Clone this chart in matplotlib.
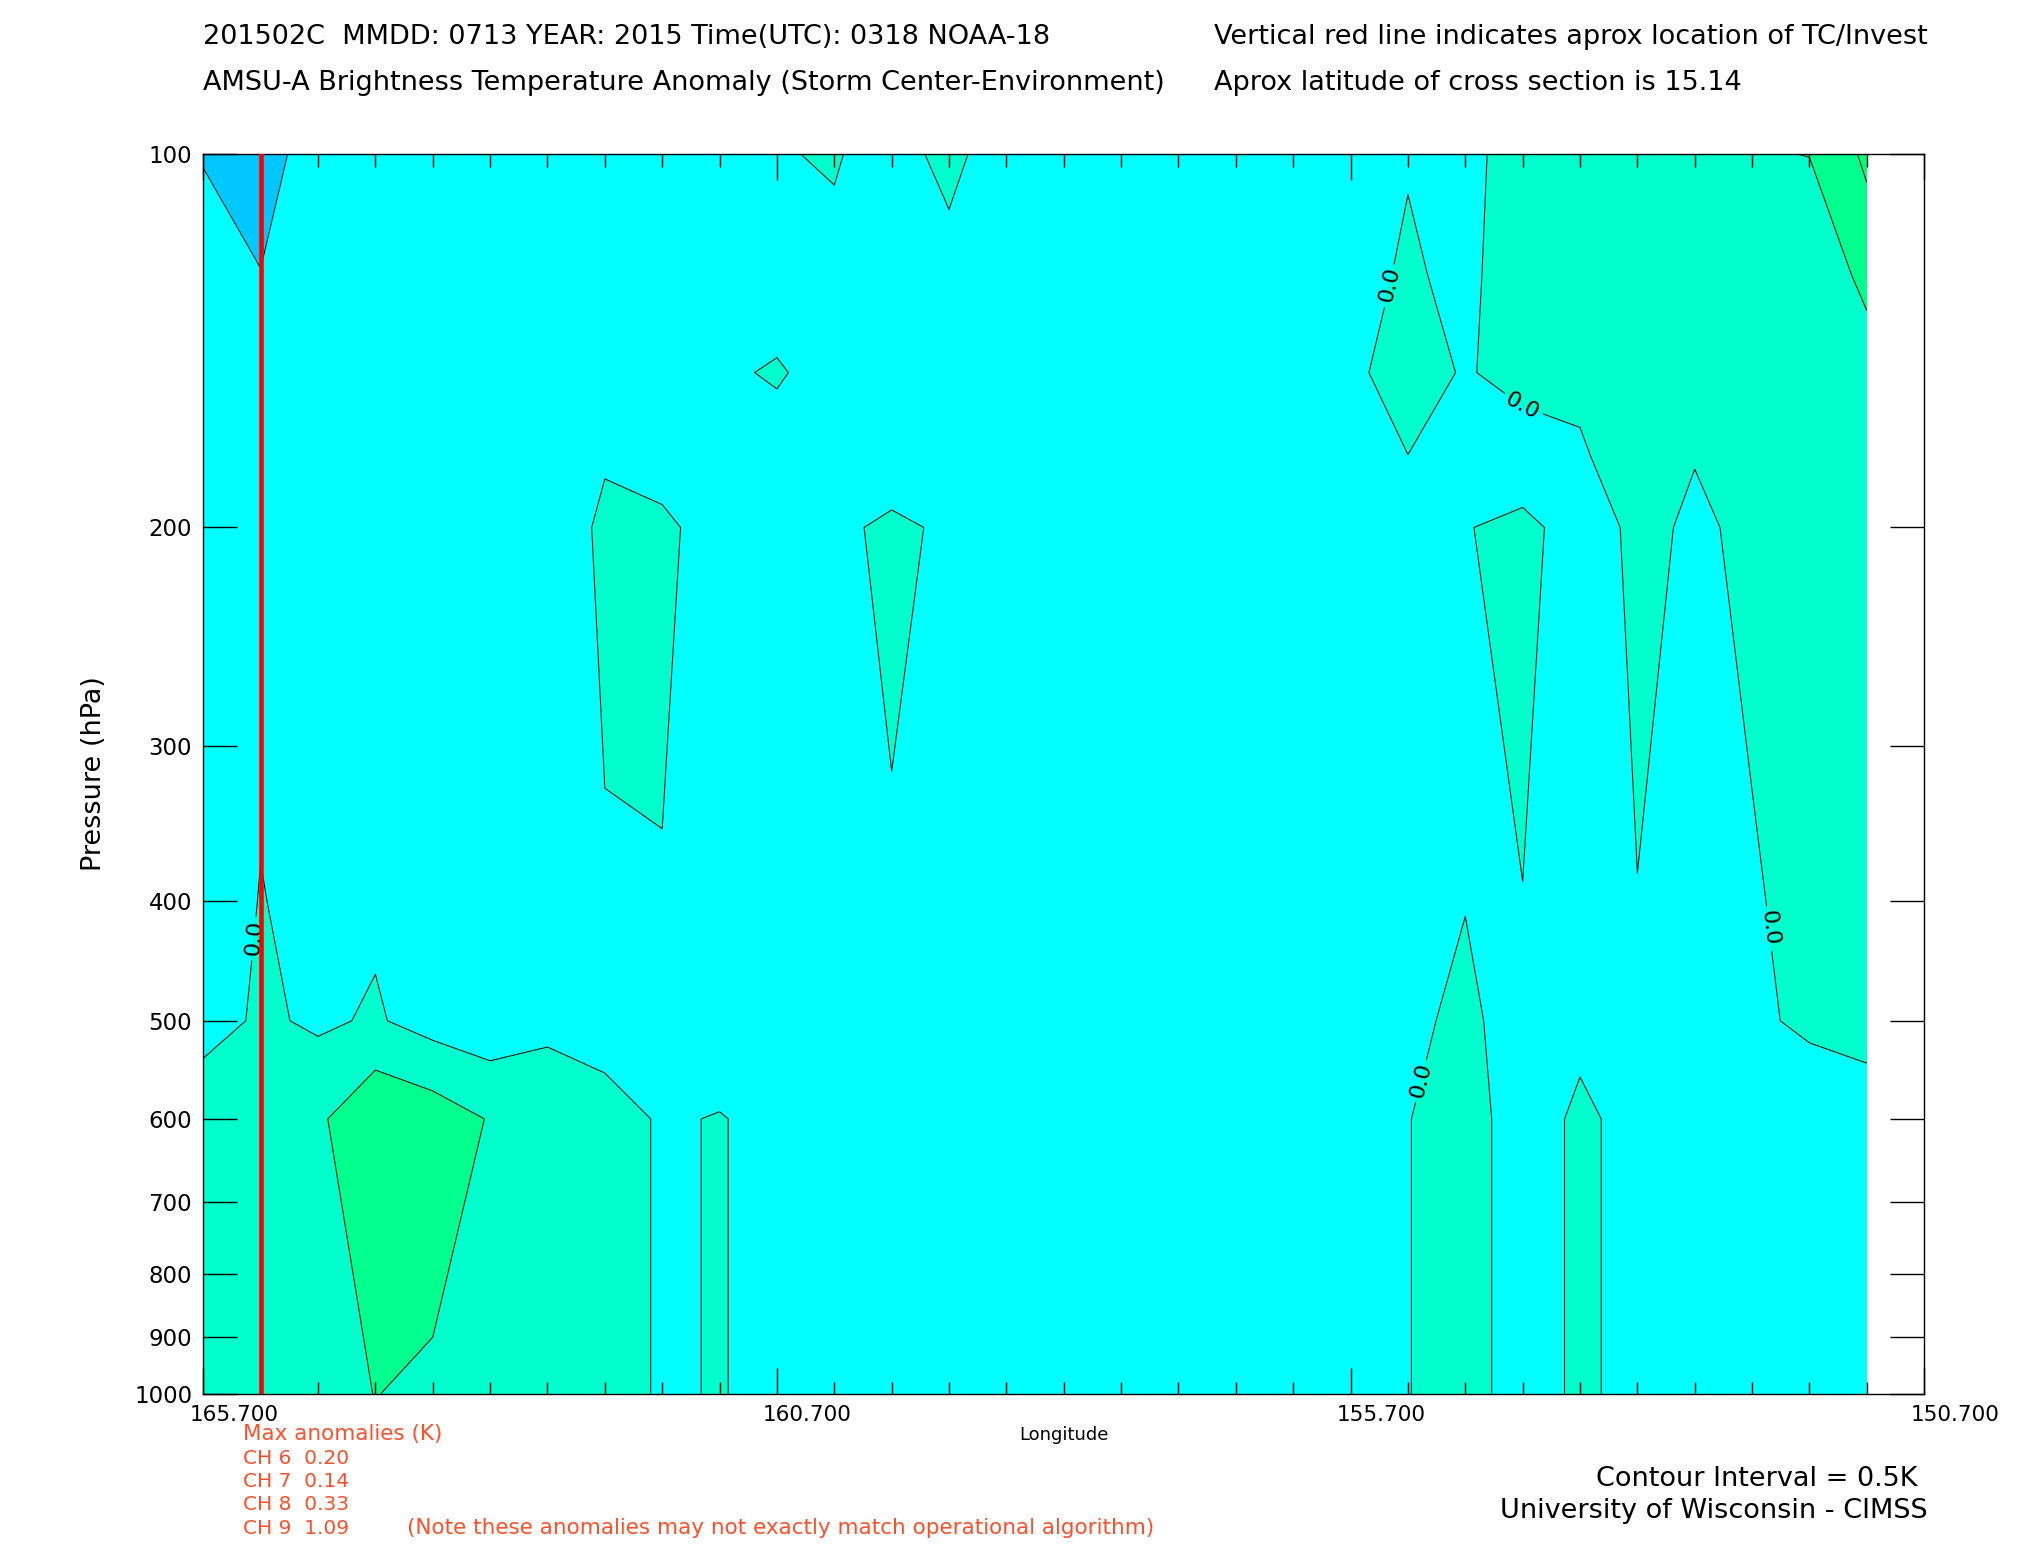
import numpy as np
import matplotlib
matplotlib.use("Agg")
import matplotlib.pyplot as plt
from matplotlib.ticker import FixedLocator, NullLocator

# ------------------------------------------------------------
# data: AMSU-A brightness temperature anomaly cross section
# ------------------------------------------------------------
lons = [165.7, 165.2, 164.7, 164.2, 163.7, 163.2, 162.7, 162.2, 161.7, 161.2,
        160.7, 160.2, 159.7, 159.2, 158.7, 158.2, 157.7, 157.2, 156.7, 156.2,
        155.7, 155.2, 154.7, 154.2, 153.7, 153.2, 152.7, 152.2, 151.7, 151.2]
plevs = [100, 125, 150, 175, 200, 400, 500, 600, 1000]

# anomaly (K) at each pressure level, one value per longitude above
ta_100 = [-0.52, -0.75, -0.218, -0.25, -0.25, -0.22, -0.2, -0.2, -0.18, -0.15,
          -0.029, 0.04, -0.21, 0.152, -0.309, -0.25, -0.2, -0.2, -0.15, -0.15,
          -0.12, -0.027, -0.08, 0.13, 0.25, 0.3, 0.35, 0.456, 0.51, 1.095]
ta_125 = [-0.328, -0.485, -0.2, -0.2, -0.2, -0.2, -0.2, -0.2, -0.2, -0.2,
          -0.153, -0.13, -0.2, -0.2, -0.2, -0.2, -0.2, -0.2, -0.2, -0.2,
          -0.154, 0.06, -0.116, 0.284, 0.35, 0.38, 0.38, 0.3, 0.081, 0.655]
ta_150 = [-0.2, -0.25, -0.2, -0.2, -0.2, -0.2, -0.2, -0.2, -0.2, -0.047,
          0.03, -0.12, -0.2, -0.2, -0.2, -0.2, -0.2, -0.2, -0.2, -0.2,
          -0.1176, 0.25, -0.051, 0.204, 0.15, 0.3, 0.35, 0.3, 0.15, 0.21]
ta_175 = [-0.2, -0.2, -0.2, -0.2, -0.2, -0.2, -0.2, -0.045, -0.241, -0.2,
          -0.133, -0.2, -0.29, -0.2, -0.2, -0.2, -0.2, -0.2, -0.2, -0.2,
          -0.2, -0.003, -0.2, -0.322, -0.083, 0.378, 0.012, 0.2, 0.25, 0.25]
ta_200 = [-0.2, -0.127, -0.2, -0.2, -0.2, -0.2, -0.335, 0.1, 0.12, -0.255,
          -0.2, -0.108, 0.1, -0.0786, -0.2, -0.2, -0.2, -0.2, -0.2, -0.2,
          -0.2, -0.2, -0.0235, 0.133, -0.217, 0.093, -0.055, 0.07, 0.2, 0.2]
ta_400 = [-0.337, 0.02, -0.163, -0.068, -0.2, -0.2, -0.2, -0.0605, -0.04, -0.2,
          -0.2, -0.2, -0.0745, -0.2, -0.2, -0.2, -0.2, -0.2, -0.2, -0.2,
          -0.2, -0.15, -0.027, -0.01, -0.1, -0.0103, -0.15, -0.041, 0.13, 0.2]
ta_500 = [-0.205, 0.0718, -0.069, 0.048, -0.181, -0.294, -0.1, -0.177, -0.2, -0.23,
          -0.2, -0.2, -0.2, -0.2, -0.2, -0.2, -0.2, -0.2, -0.2, -0.2,
          -0.2, -0.192, 0.2, -0.425, -0.159, -0.2, -0.2, -0.048, 0.05, 0.1]
ta_600 = [0.364, 0.35, 0.4, 0.99, 0.797, 0.467, 0.3, 0.17, -0.0425, 0.02,
          -0.113, -0.2, -0.2, -0.2, -0.2, -0.2, -0.2, -0.2, -0.2, -0.2,
          -0.2, -0.019, 0.3, -0.352, 0.13, -0.221, -0.2, -0.2, -0.188, -0.144]
ta_1000 = [0.3, 0.3, 0.3, 0.51, 0.401, 0.3, 0.3, 0.17, -0.0425, 0.02,
           -0.113, -0.2, -0.2, -0.2, -0.2, -0.2, -0.2, -0.2, -0.2, -0.2,
           -0.2, -0.019, 0.3, -0.352, 0.13, -0.221, -0.2, -0.2, -0.2, -0.2]

storm_lon = 165.2
contour_levels = [-1.0, -0.5, 0.0, 0.5, 1.0, 1.5]
fill_colors = ['#00c8ff', '#00ffff', '#00ffcc', '#00ff8c', '#00ff78']

channels = [6, 7, 8, 9]
max_anom = [0.20, 0.14, 0.33, 1.09]

x_major = [165.7, 160.7, 155.7, 150.7]
x_major_labels = ['165.700', '160.700', '155.700', '150.700']
y_ticks = [100, 200, 300, 400, 500, 600, 700, 800, 900, 1000]

title_1 = "201502C  MMDD: 0713 YEAR: 2015 Time(UTC): 0318 NOAA-18"
title_2 = "AMSU-A Brightness Temperature Anomaly (Storm Center-Environment)"
note_1 = "Vertical red line indicates aprox location of TC/Invest"
note_2 = "Aprox latitude of cross section is 15.14"

# label spots for the 0.0 contour (lon, hPa)
zero_label_pos = [(165.33, 428), (155.43, 127), (154.21, 160), (155.15, 557), (151.99, 420)]

# ------------------------------------------------------------
# figure
# ------------------------------------------------------------
W, H = 2025, 1550
fig = plt.figure(figsize=(W / 100, H / 100), dpi=100)
ax = fig.add_axes([203.3 / W, 1 - 1393.9 / H, (1924.2 - 203.3) / W, (1393.9 - 154.3) / H])

anom = np.array([ta_100, ta_125, ta_150, ta_175, ta_200, ta_400, ta_500, ta_600, ta_1000])
X, Y = np.meshgrid(lons, plevs)

ax.contourf(X, Y, anom, levels=contour_levels, colors=fill_colors)
ax.contour(X, Y, anom, levels=[-0.5, 0.5, 1.0], colors='black',
           linewidths=0.7, linestyles='solid')
cs0 = ax.contour(X, Y, anom, levels=[0.0], colors='black',
                 linewidths=0.7, linestyles='solid')

ax.set_yscale('log')
ax.set_xlim(165.7, 150.7)
ax.set_ylim(1000, 100)

ax.clabel(cs0, manual=zero_label_pos, inline=True, fmt='%.1f', fontsize=16, inline_spacing=4)

# red line at storm position
ax.axvline(storm_lon, color='red', lw=3.3, zorder=5)

# axes / ticks
for s in ax.spines.values():
    s.set_linewidth(1.0)
ax.xaxis.set_major_locator(FixedLocator(x_major))
ax.xaxis.set_minor_locator(FixedLocator(np.arange(150.7, 165.71, 0.5)))
ax.tick_params(axis='x', which='major', direction='in', length=18.5, width=1,
               top=True, bottom=True, labelbottom=False)
ax.tick_params(axis='x', which='minor', direction='in', length=9, width=1,
               top=True, bottom=True)
ax.yaxis.set_major_locator(FixedLocator(y_ticks))
ax.yaxis.set_minor_locator(NullLocator())
ax.set_yticklabels([str(v) for v in y_ticks])
ax.tick_params(axis='y', which='major', direction='in', length=24.5, width=1,
               left=True, right=True, labelsize=16.5, pad=8)

for v, s in zip(x_major, x_major_labels):
    ax.annotate(s, xy=(v, 0), xycoords=('data', 'axes fraction'),
                xytext=(22, -8), textcoords='offset points',
                ha='center', va='top', fontsize=15.5)

fig.text(1063.7 / W, 1 - 1435 / H, 'Longitude', ha='center', va='center', fontsize=13)
fig.text(94.3 / W, 1 - 774 / H, 'Pressure (hPa)', rotation=90,
         ha='center', va='center', fontsize=19.5)

# header lines
fig.text(203 / W, 1 - 37.5 / H, title_1, ha='left', va='center', fontsize=19.5)
fig.text(203 / W, 1 - 83.3 / H, title_2, ha='left', va='center', fontsize=19.5)
fig.text(1214 / W, 1 - 37.5 / H, note_1, ha='left', va='center', fontsize=19.5)
fig.text(1214 / W, 1 - 83.3 / H, note_2, ha='left', va='center', fontsize=19.5)

# max anomaly block
red_txt = '#ff4f2a'
fig.text(243 / W, 1 - 1434 / H, 'Max anomalies (K)', color=red_txt,
         ha='left', va='center', fontsize=15.5)
row_y = [1458, 1481.5, 1504.7, 1528]
for ch, val, yy in zip(channels, max_anom, row_y):
    fig.text(243 / W, 1 - yy / H, f'CH {ch}  {val:.2f}', color=red_txt,
             ha='left', va='center', fontsize=14.5)
fig.text(407 / W, 1 - 1528 / H,
         '(Note these anomalies may not exactly match operational algorithm)',
         color=red_txt, ha='left', va='center', fontsize=15.5)

fig.text(1918 / W, 1 - 1479 / H, 'Contour Interval = 0.5K', ha='right',
         va='center', fontsize=19.5)
fig.text(1928 / W, 1 - 1511 / H, 'University of Wisconsin - CIMSS', ha='right',
         va='center', fontsize=19.5)

fig.savefig('out.png', dpi=100)
